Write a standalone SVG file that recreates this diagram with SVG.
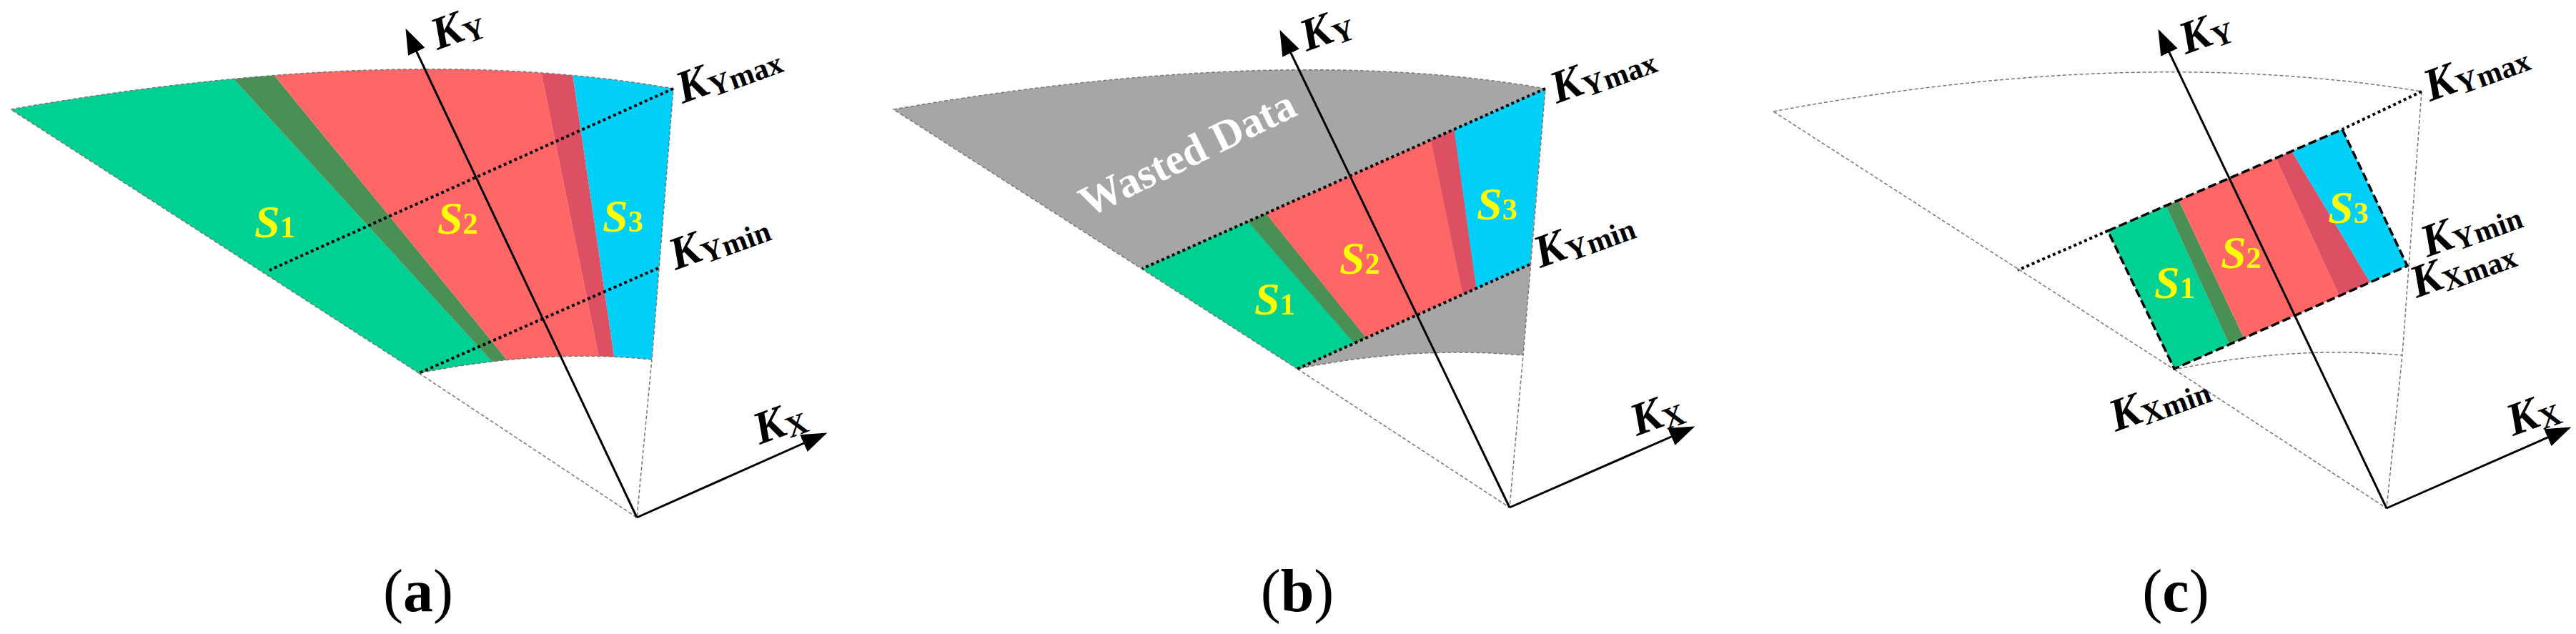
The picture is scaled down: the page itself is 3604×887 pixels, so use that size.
<svg xmlns="http://www.w3.org/2000/svg" width="3604" height="887" viewBox="0 0 3604 887">
<style>
.g{fill:#00D093}.dg{fill:#4A9055}.r{fill:#FF6666}.dr{fill:#DD5063}.b{fill:#00CFF8}
.out{fill:none;stroke:#777;stroke-width:1.5;stroke-dasharray:5,3}
.dot{fill:none;stroke:#000;stroke-width:4;stroke-dasharray:4,4}
.rect{fill:none;stroke:#000;stroke-width:3.5;stroke-dasharray:12,5}
.ax{stroke:#000;stroke-width:3;fill:none}
.k{font-family:"Liberation Serif",serif;font-weight:bold;font-style:italic;font-size:64px;fill:#000}
.sub{font-style:normal;font-size:42px}
.s{font-family:"Liberation Serif",serif;font-weight:bold;font-style:italic;font-size:64px;fill:#FFFF00}
.lab{font-family:"Liberation Serif",serif;font-size:84px;fill:#000;text-anchor:middle}
</style>
<defs>
<marker id="ah" viewBox="0 0 10 10" refX="9" refY="5" markerWidth="36" markerHeight="26" orient="auto" markerUnits="userSpaceOnUse" preserveAspectRatio="none"><path d="M0,0L10,5L0,10Z" fill="#000"/></marker>
<clipPath id="ca"><path d="M15,153Q561.5,57.5 942,124L912,503Q761,487.5 586,522Z"/></clipPath>
<clipPath id="cb"><polygon points="2162,124 1598,376 1815,516 2140,370"/></clipPath>
<clipPath id="cc"><polygon points="2949,323 3277,181 3368,372 3042,516"/></clipPath>
</defs>
<g id="panel-a">
<g clip-path="url(#ca)">
<polygon class="g" points="0,60 280.8,60 738,560 0,560"/>
<polygon class="dg" points="280.8,60 346.6,60 755.6,560 738,560"/>
<polygon class="r" points="346.6,60 748.9,60 850.1,560 755.6,560"/>
<polygon class="dr" points="748.9,60 794.7,60 868.2,560 850.1,560"/>
<polygon class="b" points="794.7,60 1000,60 1000,560 868.2,560"/>
</g>
<path class="out" d="M15,153Q561.5,57.5 942,124L912,503Q761,487.5 586,522Z M586,522L891,724L912,503"/>
<path class="dot" d="M942,124L377,378M921,375L586,522"/>
<text class="s" x="356" y="332">S<tspan class="sub">1</tspan></text>
<text class="s" x="612" y="327">S<tspan class="sub">2</tspan></text>
<text class="s" x="843" y="324">S<tspan class="sub">3</tspan></text>
</g>
<g id="panel-b">
<path d="M1250,153Q1794,59.5 2162,124L2131,497Q1977,483.5 1815,516Z" fill="#A6A6A6"/>
<g clip-path="url(#cb)">
<polygon class="g" points="1400,60 1527.7,60 1964.3,560 1400,560"/>
<polygon class="dg" points="1527.7,60 1579,60 1981.4,560 1964.3,560"/>
<polygon class="r" points="1579,60 1973.9,60 2077.2,560 1981.4,560"/>
<polygon class="dr" points="1973.9,60 2017.6,60 2087.1,560 2077.2,560"/>
<polygon class="b" points="2017.6,60 2250,60 2250,560 2087.1,560"/>
</g>
<path class="out" d="M1250,153Q1794,59.5 2162,124L2131,497Q1977,483.5 1815,516Z M1815,516L2112,710L2131,497"/>
<path class="dot" d="M2162,124L1598,376M2140,370L1815,516"/>
<text x="1662" y="234" transform="rotate(-26 1662 216)" font-family="Liberation Serif,serif" font-weight="bold" font-size="60" fill="#fff" text-anchor="middle">Wasted Data</text>
<text class="s" x="1755" y="440">S<tspan class="sub">1</tspan></text>
<text class="s" x="1874" y="383">S<tspan class="sub">2</tspan></text>
<text class="s" x="2066" y="307">S<tspan class="sub">3</tspan></text>
</g>
<g id="panel-c">
<g clip-path="url(#cc)">
<polygon class="g" points="2900,150 2967.5,150 3149.9,550 2900,550"/>
<polygon class="dg" points="2967.5,150 2986.4,150 3176,550 3149.9,550"/>
<polygon class="r" points="2986.4,150 3151.2,150 3335.6,550 3176,550"/>
<polygon class="dr" points="3151.2,150 3169.5,150 3408.6,550 3335.6,550"/>
<polygon class="b" points="3169.5,150 3450,150 3450,550 3408.6,550"/>
</g>
<path class="out" d="M2481,156Q2985.5,62 3388,128L3361,497Q3208.5,483 3042,517Z M3042,517L3339,711L3361,497"/>
<path class="dot" d="M3388,128L3277,181M2949,323L2823,378"/>
<polygon class="rect" points="2949,323 3277,181 3368,372 3042,516"/>
<text class="s" x="3014" y="417">S<tspan class="sub">1</tspan></text>
<text class="s" x="3107" y="375">S<tspan class="sub">2</tspan></text>
<text class="s" x="3257" y="312">S<tspan class="sub">3</tspan></text>
</g>
<g id="connectors">
<path class="ax" d="M891,724L569,43" marker-end="url(#ah)"/>
<path class="ax" d="M891,724L1154,607" marker-end="url(#ah)"/>
<path class="ax" d="M2112,710L1792,45" marker-end="url(#ah)"/>
<path class="ax" d="M2112,710L2368,598" marker-end="url(#ah)"/>
<path class="ax" d="M3339,711L3021,44" marker-end="url(#ah)"/>
<path class="ax" d="M3339,711L3594,599" marker-end="url(#ah)"/>
</g>
<g id="labels">
<text class="k" transform="translate(612,70) rotate(-20)">K<tspan class="sub" dy="6">Y</tspan></text>
<text class="k" transform="translate(955,145) rotate(-20)">K<tspan class="sub" dy="6">Ymax</tspan></text>
<text class="k" transform="translate(945,378) rotate(-20)">K<tspan class="sub" dy="6">Ymin</tspan></text>
<text class="k" transform="translate(1063,622) rotate(-20)">K<tspan class="sub" dy="6">X</tspan></text>
<text class="k" transform="translate(1828,72) rotate(-20)">K<tspan class="sub" dy="6">Y</tspan></text>
<text class="k" transform="translate(2178,145) rotate(-20)">K<tspan class="sub" dy="6">Ymax</tspan></text>
<text class="k" transform="translate(2155,375) rotate(-20)">K<tspan class="sub" dy="6">Ymin</tspan></text>
<text class="k" transform="translate(2290,610) rotate(-20)">K<tspan class="sub" dy="6">X</tspan></text>
<text class="k" transform="translate(3058,76) rotate(-20)">K<tspan class="sub" dy="6">Y</tspan></text>
<text class="k" transform="translate(3400,142) rotate(-20)">K<tspan class="sub" dy="6">Ymax</tspan></text>
<text class="k" transform="translate(3396,360) rotate(-20)">K<tspan class="sub" dy="6">Ymin</tspan></text>
<text class="k" transform="translate(3381,417) rotate(-20)">K<tspan class="sub" dy="6">Xmax</tspan></text>
<text class="k" transform="translate(2960,604) rotate(-20)">K<tspan class="sub" dy="6">Xmin</tspan></text>
<text class="k" transform="translate(3516,610) rotate(-20)">K<tspan class="sub" dy="6">X</tspan></text>
<text class="lab" x="585" y="855">(<tspan font-weight="bold">a</tspan>)</text>
<text class="lab" x="1815" y="855">(<tspan font-weight="bold">b</tspan>)</text>
<text class="lab" x="3044" y="855">(<tspan font-weight="bold">c</tspan>)</text>
</g>
</svg>
